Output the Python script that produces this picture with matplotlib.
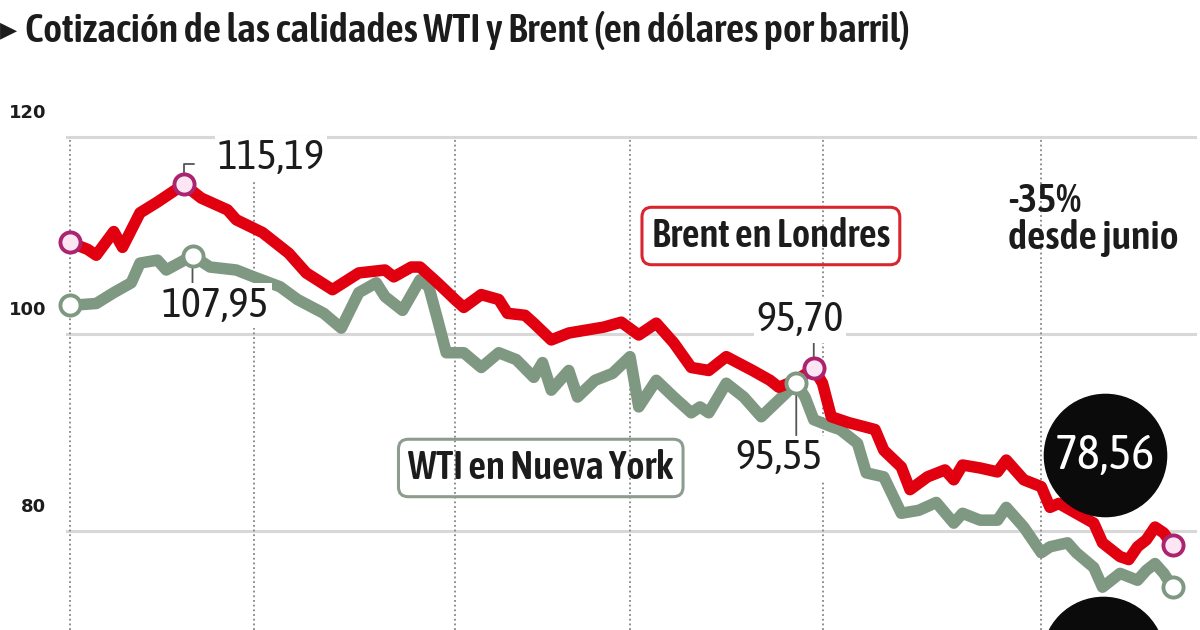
import matplotlib.pyplot as plt
from matplotlib.transforms import ScaledTranslation

plt.rcParams['font.family'] = ['Asap Condensed', 'DejaVu Sans']

# --- Data (x = trading days since early June) ---
title = 'Cotización de las calidades WTI y Brent (en dólares por barril)'
y_ticks = [80, 100, 120]
month_starts = [0, 21, 44, 64, 86, 111]

brent_days = [0, 2, 3, 5, 6, 8, 10, 13, 15, 18, 19, 22, 25, 27, 30, 33, 36, 37, 39, 40,
              42, 44, 45, 47, 49, 50, 52, 53, 55, 57, 59, 61, 63, 65, 67, 69, 71, 73, 75, 78,
              80, 81, 83, 85, 86, 87, 89, 92, 93, 95, 96, 98, 100, 101, 102, 104, 106, 107, 109, 111,
              112, 113, 115, 117, 118, 120, 121, 122, 123, 124, 125, 126]
brent_vals = [109.3, 108.6, 108.0, 110.4, 108.8, 112.3, 113.4, 115.19, 113.8, 112.6,
              111.6, 110.3, 108.2, 106.2, 104.5, 106.2, 106.5, 105.8, 106.8, 106.8,
              105.2, 103.5, 102.7, 104.0, 103.5, 102.1, 101.9, 101.1, 99.4, 100.1,
              100.4, 100.7, 101.2, 99.9, 101.1, 99.1, 96.6, 96.3, 97.7, 96.3,
              95.3, 94.6, 95.3, 96.5, 95.0, 91.6, 91.0, 90.3, 88.2, 86.5,
              84.2, 85.5, 86.2, 85.2, 86.7, 86.4, 86.0, 87.2, 85.2, 84.5,
              82.4, 82.8, 81.8, 80.8, 78.8, 77.4, 77.1, 78.4, 79.1, 80.4,
              79.8, 78.56]

wti_days = [0, 3, 5, 7, 8, 10, 11, 14, 16, 19, 21, 24, 26, 29, 31, 32, 33, 35, 36, 38,
            40, 41, 42, 43, 45, 47, 49, 51, 53, 54, 55, 57, 58, 60, 62, 64, 65, 67, 69, 71,
            72, 73, 75, 77, 79, 81, 83, 84, 85, 87, 88, 90, 91, 93, 95, 97, 99, 101, 102, 104,
            106, 107, 109, 111, 112, 114, 115, 117, 118, 120, 122, 123, 124, 125, 126]
wti_vals = [102.9, 103.1, 104.2, 105.2, 107.2, 107.5, 106.5, 107.95, 106.8, 106.5,
            105.8, 104.8, 103.5, 102.1, 100.6, 102.4, 104.2, 105.2, 103.8, 102.4,
            105.5, 104.8, 101.5, 98.1, 98.1, 96.6, 98.1, 97.4, 95.6, 97.1,
            94.3, 96.3, 93.6, 95.3, 96.0, 97.7, 92.6, 95.3, 93.6, 92.0,
            92.6, 92.0, 95.0, 93.6, 91.6, 93.3, 95.0, 93.6, 91.3, 90.6,
            90.3, 88.9, 85.9, 85.5, 81.8, 82.1, 82.9, 80.8, 81.8, 81.1,
            81.1, 82.4, 80.4, 77.8, 78.4, 78.8, 77.8, 76.3, 74.3, 75.7,
            75.0, 76.0, 76.7, 75.7, 74.3]

brent_mark_days = [0, 13, 85, 126]
wti_mark_days = [0, 14, 83, 126]

RED = '#e1000f'
GREEN = '#7e9882'
TXT = '#1c1c1c'


def value_at(days, vals, d):
    return vals[days.index(d)]


fig = plt.figure(figsize=(12, 6.3), dpi=100)
ax = fig.add_axes([0, 0, 1, 1])
ax.set_xlim(-8.0, 129.14)
ax.set_ylim(69.95, 133.91)
ax.axis('off')

# grid: solid horizontal lines, dotted month separators
for v in y_ticks:
    ax.plot([-0.34, 128.6], [v, v], color='#d8d8d8', lw=2.2, zorder=1)
    ax.annotate(str(v), xy=(-2.7, v), xytext=(0, 24), textcoords='offset pixels',
                ha='right', va='center', fontsize=13, fontweight='bold',
                family='DejaVu Sans', color=TXT)
ax.vlines(month_starts, 69.95, 120, colors='#858585', linestyles=(0, (1, 1.6)), lw=1.3, zorder=1)

# series
ax.plot(wti_days, wti_vals, color=GREEN, lw=8.3, solid_joinstyle='round',
        solid_capstyle='round', zorder=3)
ax.plot(brent_days, brent_vals, color=RED, lw=8.3, solid_joinstyle='round',
        solid_capstyle='round', zorder=4)

wti_mark_vals = [value_at(wti_days, wti_vals, d) for d in wti_mark_days]
brent_mark_vals = [value_at(brent_days, brent_vals, d) for d in brent_mark_days]
ax.plot(wti_mark_days, wti_mark_vals, 'o', ms=14.5, mfc='white', mec=GREEN, mew=2.8,
        zorder=6, clip_on=False)
ax.plot(brent_mark_days, brent_mark_vals, 'o', ms=14.5, mfc='#fde6f3', mec='#ab2470', mew=2.8,
        zorder=6, clip_on=False)

# value labels with short leaders
lbl = dict(textcoords='offset pixels', ha='center', va='center', fontsize=30.5, color=TXT,
           zorder=7, bbox=dict(boxstyle='square,pad=0.06', fc='white', ec='none'))
lead = dict(arrowstyle='-', color='#555555', lw=1.3, shrinkA=0, shrinkB=7)

p = (13, brent_mark_vals[1])
ax.annotate('115,19', xy=p, xytext=(87, 26), **lbl)
ax.annotate('', xy=p, xytext=(10, 20), textcoords='offset pixels', zorder=5,
            arrowprops=dict(connectionstyle='angle,angleA=0,angleB=90,rad=0', **lead))

p = (14, wti_mark_vals[1])
ax.annotate('107,95', xy=p, xytext=(23, -50), **lbl)
ax.annotate('', xy=p, xytext=(0, -32), textcoords='offset pixels', zorder=5, arrowprops=lead)

p = (85, brent_mark_vals[2])
ax.annotate('95,70', xy=p, xytext=(-14, 48), **lbl)
ax.annotate('', xy=p, xytext=(0, 26), textcoords='offset pixels', zorder=5, arrowprops=lead)

p = (83, wti_mark_vals[2])
ax.annotate('95,55', xy=p, xytext=(-17, -75), **lbl)
ax.annotate('', xy=p, xytext=(0, -52), textcoords='offset pixels', zorder=5, arrowprops=lead)

# black bubbles with last values
p = (126, brent_mark_vals[3])
shift = ax.transData + ScaledTranslation(-0.68, 0.90, fig.dpi_scale_trans)
ax.plot([p[0]], [p[1]], 'o', ms=88, color='#0b0b0b', transform=shift, zorder=5, clip_on=False)
ax.annotate('78,56', xy=p, xytext=(-68, 90), textcoords='offset pixels', ha='center',
            va='center', fontsize=35, color='white', zorder=6)

p = (126, wti_mark_vals[3])
shift = ax.transData + ScaledTranslation(-0.70, -0.71, fig.dpi_scale_trans)
ax.plot([p[0]], [p[1]], 'o', ms=88, color='#0b0b0b', transform=shift, zorder=5, clip_on=False)

# series names
ax.text(80.1, 109.95, 'Brent en Londres', ha='center', va='center', fontsize=28,
        fontweight='semibold', color=TXT, zorder=2,
        bbox=dict(boxstyle='round,pad=0.25,rounding_size=0.25', fc='none', ec='#d7262e', lw=2.2))
ax.text(53.8, 86.4, 'WTI en Nueva York', ha='center', va='center', fontsize=28,
        fontweight='semibold', color=TXT, zorder=2,
        bbox=dict(boxstyle='round,pad=0.25,rounding_size=0.25', fc='none', ec='#8d9c8f', lw=2.2))
ax.text(107.2, 115.4, '-35%\ndesde junio', ha='left', va='top', fontsize=29,
        fontweight='semibold', color=TXT, linespacing=0.95, zorder=2)

# title
fig.text(0.0, 1 - 30 / 630, '▶', fontsize=16, family='DejaVu Sans', va='center', color=TXT)
fig.text(25 / 1200, 1 - 30 / 630, title, ha='left', va='center', fontsize=29,
         fontweight='semibold', color=TXT)

fig.savefig('out.png', dpi=100)
